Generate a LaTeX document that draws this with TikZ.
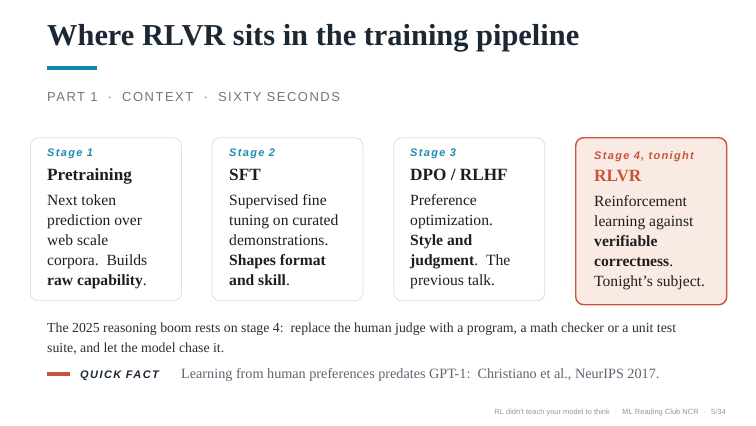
\documentclass[tikz,border=0pt]{standalone}
\usepackage{fontspec}
\setmainfont{Liberation Serif}
\setsansfont{Liberation Sans}
\newfontfamily\lblsans[LetterSpace=12]{Liberation Sans}
\newfontfamily\qfsans[LetterSpace=13]{Liberation Sans}
\newfontfamily\capsans[LetterSpace=11.5]{Liberation Sans}
\definecolor{titlecol}{HTML}{1B2833}
\definecolor{accent}{HTML}{0E87AD}
\definecolor{teallbl}{HTML}{1F8DB0}
\definecolor{orangec}{HTML}{C8553A}
\definecolor{card4fill}{HTML}{F9EBE4}
\definecolor{cardline}{HTML}{DDE1E4}
\definecolor{subgray}{HTML}{6B7884}
\definecolor{bodytxt}{HTML}{1E1E1E}
\definecolor{paratxt}{HTML}{2A2F33}
\definecolor{factgray}{HTML}{5B6670}
\definecolor{footgray}{HTML}{8F989F}
\definecolor{footsep}{HTML}{B8BEC3}
\newcommand\lnstrut{\rule{0pt}{14pt}}
\tikzset{
  cardbox/.style={draw=cardline, line width=0.9pt, fill=white, rounded corners=8pt, inner sep=0pt, anchor=north west, minimum width=151pt, minimum height=163pt},
  hotbox/.style={draw=orangec, line width=1.4pt, fill=card4fill, rounded corners=8pt, inner sep=0pt, anchor=north west, minimum width=151pt, minimum height=167pt},
  stagelbl/.style={anchor=base west, inner sep=0pt, text=teallbl, font=\lblsans\bfseries\itshape\fontsize{11}{12}\selectfont},
  cardttl/.style={anchor=base west, inner sep=0pt, text=bodytxt, font=\bfseries\fontsize{17.2}{20}\selectfont},
  cardbody/.style={anchor=north west, inner sep=0pt, align=left, text=bodytxt, font=\fontsize{15.6}{20}\selectfont},
}
\begin{document}
\begin{tikzpicture}[x=1pt,y=-1pt]
\useasboundingbox (0,0) rectangle (756,426);
\fill[white] (0,0) rectangle (756,426);
% title
\node[anchor=base west, inner sep=0pt, text=titlecol, font=\bfseries\fontsize{30.4}{36}\selectfont] (title) at (47,45.7) {Where RLVR sits in the training pipeline};
\fill[accent] (47,66) rectangle (97,70);
\node[anchor=base west, inner sep=0pt, text=subgray, font=\capsans\fontsize{13}{15}\selectfont] (sub) at (47,101) {PART 1 \ · \ CONTEXT \ · \ SIXTY SECONDS};
% cards
\node[cardbox] (c1) at (30,137.3) {};
\node[cardbox] (c2) at (211.5,137.3) {};
\node[cardbox] (c3) at (393.3,137.3) {};
\node[hotbox] (c4) at (575,137) {};
% card 1
\node[stagelbl] (s1) at (47,156.7) {Stage 1};
\node[cardttl] (t1) at (47,180) {Pretraining};
\node[cardbody] (b1) at (47,191.5) {\lnstrut Next token\\prediction over\\web scale\\corpora.\ \ Builds\\\textbf{raw capability}.};
% card 2
\node[stagelbl] (s2) at (229,156.7) {Stage 2};
\node[cardttl] (t2) at (229,180) {SFT};
\node[cardbody] (b2) at (229,191.5) {\lnstrut Supervised fine\\tuning on curated\\demonstrations.\\\textbf{Shapes format}\\\textbf{and skill}.};
% card 3
\node[stagelbl] (s3) at (410,156.7) {Stage 3};
\node[cardttl] (t3) at (410,180) {DPO / RLHF};
\node[cardbody] (b3) at (410,191.5) {\lnstrut Preference\\optimization.\\\textbf{Style and}\\\textbf{judgment}.\ \ The\\previous talk.};
% card 4
\node[stagelbl, text=orangec] (s4) at (594,159) {Stage 4, tonight};
\node[cardttl, text=orangec] (t4) at (594,181.7) {RLVR};
\node[cardbody] (b4) at (594,192.3) {\lnstrut Reinforcement\\learning against\\\textbf{verifiable}\\\textbf{correctness}.\\Tonight’s subject.};
% paragraph
\node[anchor=north west, inner sep=0pt, align=left, text=paratxt, font=\fontsize{13.8}{20}\selectfont] (para) at (47,318) {\lnstrut The 2025 reasoning boom rests on stage 4:\ \ replace the human judge with a program, a math checker or a unit test\\suite, and let the model chase it.};
% quick fact
\fill[orangec] (47,372) rectangle (70,375.7);
\node[anchor=base west, inner sep=0pt, text=titlecol, font=\qfsans\bfseries\itshape\fontsize{11}{12}\selectfont] (qf) at (80,378) {QUICK FACT};
\node[anchor=base west, inner sep=0pt, text=factgray, font=\fontsize{14.2}{16}\selectfont] (fact) at (181,378) {Learning from human preferences predates GPT-1:\ \ Christiano et al., NeurIPS 2017.};
% footer
\node[anchor=base east, inner sep=0pt, text=footgray, font=\sffamily\fontsize{7.5}{9}\selectfont] (foot) at (726,414) {RL didn’t teach your model to think\hspace{5pt}\textcolor{footsep}{·}\hspace{5pt}ML Reading Club NCR\hspace{5pt}\textcolor{footsep}{·}\hspace{5pt}5/34};
\end{tikzpicture}
\end{document}
